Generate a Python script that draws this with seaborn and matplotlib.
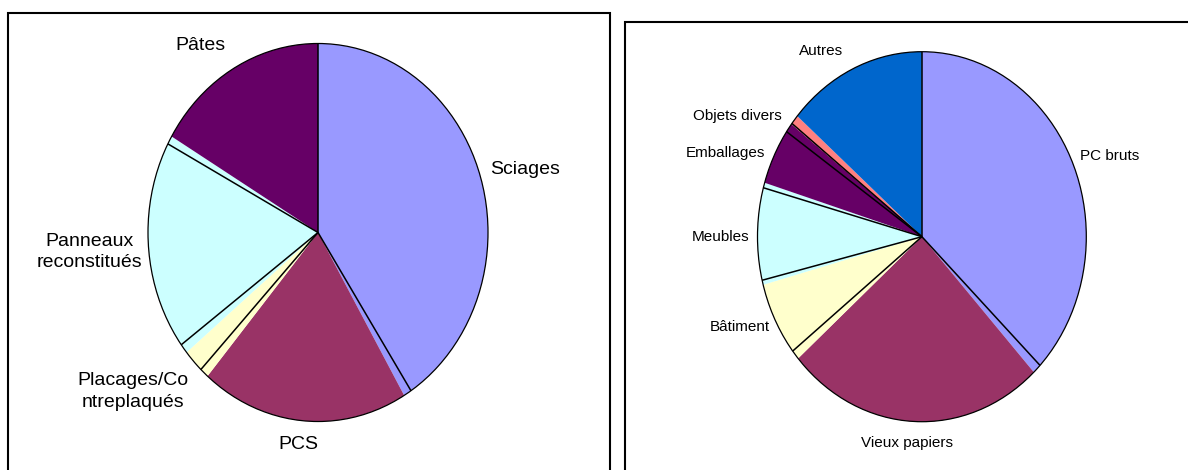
import numpy as np
import matplotlib
matplotlib.use("Agg")
import matplotlib.pyplot as plt
import seaborn as sns
from matplotlib.patches import Rectangle, Ellipse

# ---- data ----
left_labels = ["Sciages", "PCS", "Placages/Co\nntreplaqués", "Panneaux\nreconstitués", "Pâtes"]
left_values = [41.5, 19.7, 2.8, 19.4, 16.5]

right_labels = ["PC bruts", "Vieux papiers", "Bâtiment", "Meubles", "Emballages", "Objets divers", "Autres"]
right_values = [38.1, 25.5, 7.25, 8.9, 5.7, 0.9, 13.7]

excel_colors = ["#9999FF", "#993366", "#FFFFCC", "#CCFFFF", "#660066", "#FF8080", "#0066CC"]

# ---- layout (label centres in pie-radius units) ----
left_label_pos = [(1.218, 0.331), (-0.115, -1.124), (-1.091, -0.841), (-1.347, -0.103), (-0.694, 0.987)]
right_label_pos = [(1.144, 0.436), (-0.092, -1.115), (-1.109, -0.488), (-1.224, -0.002),
                   (-1.194, 0.452), (-1.125, 0.652), (-0.614, 1.004)]

sns.set_theme(style="white")
plt.rcParams["font.family"] = ["Liberation Sans", "DejaVu Sans"]

W, H = 1188, 470
fig = plt.figure(figsize=(W / 100, H / 100), dpi=100)
fig.patch.set_facecolor("white")

M = 1.05


def pie_axes(cx, cy, rx, ry):
    l, r = cx - M * rx, cx + M * rx
    t, b = cy - M * ry, cy + M * ry
    return fig.add_axes([l / W, 1 - b / H, (r - l) / W, (b - t) / H])


def draw_pie(ax, values, labels, label_pos, fontsize, k=0.9):
    palette = sns.color_palette(excel_colors[:len(values)])
    ax.pie(values, colors=palette, startangle=90, counterclock=False,
           wedgeprops=dict(linewidth=0, edgecolor="none", antialiased=True))
    ax.set_aspect("auto")
    ax.set_xlim(-M, M)
    ax.set_ylim(-M, M)
    ax.axis("off")
    # radial border lines (slightly offset from the fills as in the original rendering)
    frac = np.concatenate([[0], np.cumsum(values) / np.sum(values)])[:-1]
    theta = np.deg2rad(90 - 360 * frac)
    phi = np.arctan2(k * np.sin(theta), np.cos(theta))
    for p in phi:
        ax.plot([0, np.cos(p)], [0, np.sin(p)], color="black", lw=1.1,
                solid_capstyle="butt")
    ax.add_patch(Ellipse((0, 0), 2, 2, fill=False, ec="black", lw=0.9))
    for lab, (u, v) in zip(labels, label_pos):
        ax.text(u, v, lab, ha="center", va="center", fontsize=fontsize,
                color="black", linespacing=1.35)


axL = pie_axes(318, 232.5, 170, 189)
draw_pie(axL, left_values, left_labels, left_label_pos, 14)

axR = pie_axes(921.9, 236.7, 164.4, 185)
draw_pie(axR, right_values, right_labels, right_label_pos, 11)

# panel frames
fig.add_artist(Rectangle((8 / W, -0.1), (610 - 8) / W, (1 - 13 / H) + 0.1,
                         transform=fig.transFigure, fill=False, ec="black", lw=1.5))
fig.add_artist(Rectangle((625 / W, -0.1), 1.1 - 625 / W, (1 - 22 / H) + 0.1,
                         transform=fig.transFigure, fill=False, ec="black", lw=1.5))

fig.savefig("out.png", dpi=100)
